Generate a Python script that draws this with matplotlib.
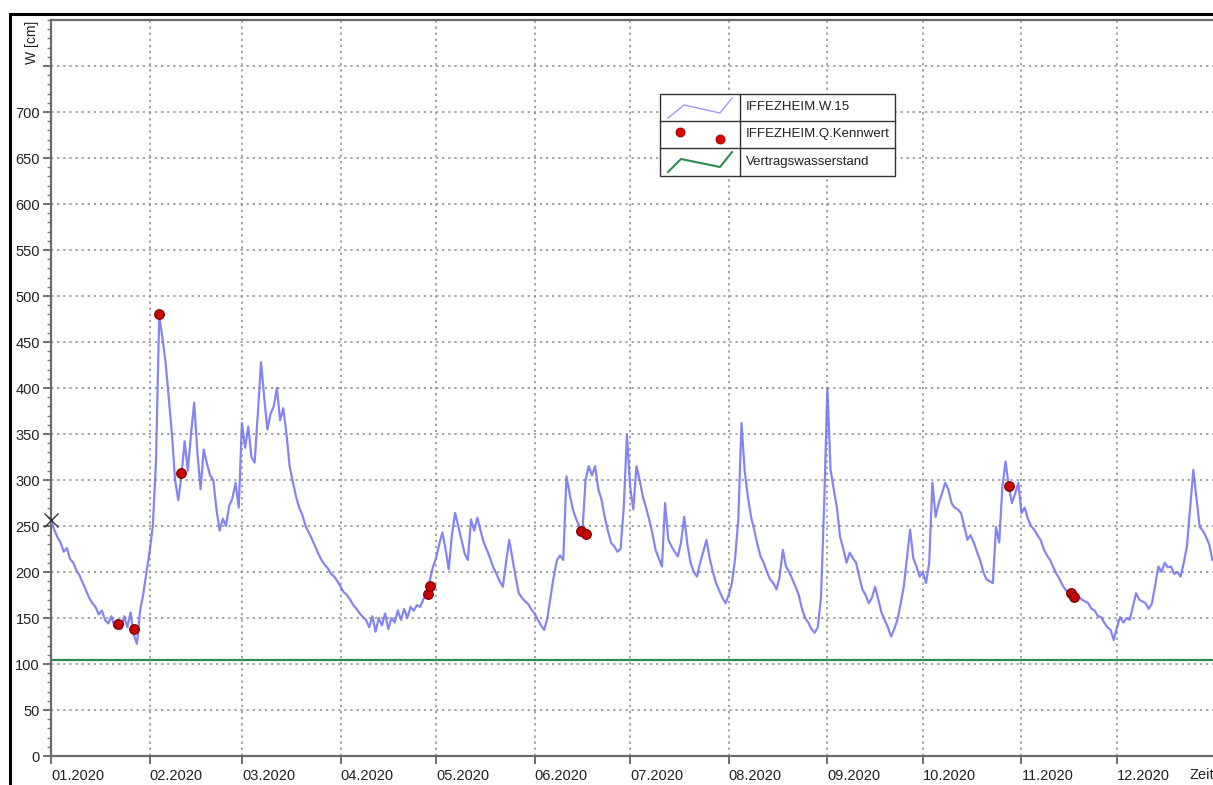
import matplotlib
matplotlib.use("Agg")
import matplotlib.pyplot as plt
from matplotlib.lines import Line2D
from matplotlib.patches import Rectangle
import pandas as pd
import numpy as np

plt.rcParams['font.family'] = ['Liberation Sans', 'DejaVu Sans']

# ---- data: daily water level IFFEZHEIM.W.15 [cm], 2020 ----
w_jan = [257, 246, 238, 232, 222, 226, 214, 210, 202, 196, 188, 180, 172, 166, 162, 154,
         158, 148, 144, 152, 140, 148, 138, 152, 140, 156, 132, 122, 158, 176, 200]
w_feb = [222, 250, 320, 478, 455, 428, 390, 350, 300, 278, 305, 342, 310, 350, 384, 330,
         290, 333, 318, 305, 300, 268, 245, 258, 250, 272, 280, 297, 270]
w_mar = [362, 335, 358, 325, 319, 372, 428, 390, 355, 372, 380, 400, 365, 378, 350, 315,
         298, 282, 270, 262, 250, 243, 236, 228, 220, 213, 208, 204, 198, 195, 190]
w_apr = [184, 178, 175, 170, 164, 160, 155, 151, 148, 140, 152, 135, 150, 142, 155, 138,
         150, 145, 158, 148, 160, 150, 162, 158, 164, 162, 170, 176, 190, 205]
w_may = [215, 230, 243, 225, 203, 240, 264, 250, 235, 220, 213, 257, 245, 259, 245, 232,
         224, 215, 205, 198, 190, 184, 210, 235, 215, 195, 177, 172, 168, 165, 159]
w_jun = [155, 148, 142, 137, 150, 173, 195, 213, 218, 213, 304, 285, 268, 258, 250, 244,
         300, 315, 305, 315, 290, 279, 260, 245, 232, 228, 222, 225, 270, 349]
w_jul = [293, 268, 315, 300, 282, 270, 257, 242, 224, 215, 206, 275, 235, 228, 222, 217,
         232, 260, 230, 210, 200, 195, 210, 222, 235, 215, 200, 188, 180, 172, 166]
w_aug = [175, 188, 215, 257, 362, 310, 282, 260, 246, 230, 217, 210, 200, 192, 188, 181,
         195, 224, 206, 200, 192, 184, 175, 160, 150, 145, 138, 134, 140, 173, 275]
w_sep = [400, 311, 290, 270, 238, 225, 210, 221, 215, 210, 195, 181, 175, 166, 172, 184,
         170, 156, 148, 140, 130, 138, 148, 165, 184, 215, 246, 215, 206, 195]
w_oct = [200, 188, 210, 297, 260, 275, 285, 297, 290, 275, 270, 268, 264, 250, 235, 240,
         232, 222, 213, 200, 192, 190, 188, 249, 232, 293, 320, 293, 275, 285, 297]
w_nov = [264, 270, 258, 250, 246, 240, 235, 225, 218, 213, 205, 198, 192, 185, 180, 176,
         174, 178, 173, 170, 168, 166, 160, 158, 152, 151, 145, 140, 137, 126]
w_dec = [140, 151, 145, 150, 148, 162, 177, 170, 168, 166, 160, 166, 185, 206, 200, 210,
         205, 206, 198, 200, 195, 210, 228, 270, 311, 280, 249, 245, 238, 230, 213]

# characteristic discharge values (IFFEZHEIM.Q.Kennwert)
q_dates = ["2020-01-22 00:00", "2020-01-27 00:00", "2020-02-04 00:00", "2020-02-11 00:00",
           "2020-04-28 12:00", "2020-04-29 00:00", "2020-06-15 16:00", "2020-06-17 00:00",
           "2020-10-28 00:00", "2020-11-16 10:00", "2020-11-17 10:00"]
q_vals = [143, 138, 480, 308, 176, 185, 245, 241, 293, 177, 173]

vertrag = 104  # Vertragswasserstand [cm]

y_ticks = [0, 50, 100, 150, 200, 250, 300, 350, 400, 450, 500, 550, 600, 650, 700]
month_labels = ["01.2020", "02.2020", "03.2020", "04.2020", "05.2020", "06.2020",
                "07.2020", "08.2020", "09.2020", "10.2020", "11.2020", "12.2020"]

series_names = ["IFFEZHEIM.W.15", "IFFEZHEIM.Q.Kennwert", "Vertragswasserstand"]

# ---- figure ----
W, H = 1213, 785
fig = plt.figure(figsize=(W / 100, H / 100), dpi=100)

def fx(px):
    return px / W

def fy(py):
    return 1 - py / H

ax = fig.add_axes([fx(51), fy(756), fx(1213) - fx(51) + 0.01, fy(20) - fy(756)])

w_all = w_jan + w_feb + w_mar + w_apr + w_may + w_jun + w_jul + w_aug + w_sep + w_oct + w_nov + w_dec
dates = pd.date_range("2020-01-01", periods=len(w_all), freq="D")

blue = "#7070F0"
red = "#C80000"
green = "#2E8B50"

ax.plot(dates, w_all, color=blue, lw=1.6, alpha=0.85, zorder=3)
ax.plot(dates[0], w_all[0], marker="x", color="#333333", ms=10, mew=1.0, zorder=4, clip_on=False)
ax.axhline(vertrag, color=green, lw=1.6, zorder=3)
ax.plot(pd.to_datetime(q_dates, format="%Y-%m-%d %H:%M"), q_vals, ls="none", marker="o", ms=7,
        mfc=red, mec="#7a0000", mew=0.8, zorder=5)

ax.set_xlim(pd.Timestamp("2020-01-01"), pd.Timestamp("2021-01-01") + pd.Timedelta(days=3))
ax.set_ylim(0, 800)

month_pos = pd.date_range("2020-01-01", periods=12, freq="MS")
ax.set_xticks(month_pos)
ax.set_xticklabels(month_labels, ha="left", fontsize=10.5, color="#222222")
ax.set_yticks(y_ticks + [750])
ax.set_yticklabels([str(v) for v in y_ticks] + [""], fontsize=10.5, color="#222222")
ax.set_yticks(np.arange(0, 801, 10), minor=True)

ax.tick_params(axis="x", which="major", length=6, width=1.2, color="#555555", pad=3)
ax.tick_params(axis="y", which="major", length=6, width=1.2, color="#555555", pad=2)
ax.tick_params(axis="y", which="minor", length=3, width=1.0, color="#777777")

ax.grid(True, which="major", color="#8a8a8a", ls=(0, (1.5, 2.5)), lw=1.1)

for s in ["left", "bottom", "top"]:
    ax.spines[s].set_color("#6a6a6a")
    ax.spines[s].set_linewidth(1.6)
ax.spines["right"].set_visible(False)

# y-axis label
fig.text(fx(32), fy(42), "W [cm]", rotation=90, ha="center", va="center", fontsize=10, color="#222222")
# x-axis label at the right edge
fig.text(fx(1189), fy(775), "Zeit", ha="left", va="center", fontsize=10.5, color="#222222")

# outer black frame
fig.add_artist(Line2D([fx(10), fx(10)], [fy(14), 0], color="black", lw=2.2))
fig.add_artist(Line2D([fx(10), 1], [fy(14), fy(14)], color="black", lw=2.2))

# legend (table style)
lx0, lx1, lxm = 660, 895, 740
ly = [94, 121, 148, 176]
fig.add_artist(Rectangle((fx(lx0), fy(ly[3])), fx(lx1) - fx(lx0), fy(ly[0]) - fy(ly[3]),
                         facecolor="white", edgecolor="#333333", lw=1.0, zorder=10))
fig.add_artist(Line2D([fx(lxm), fx(lxm)], [fy(ly[0]), fy(ly[3])], color="#333333", lw=1.0, zorder=11))
for yy in ly[1:3]:
    fig.add_artist(Line2D([fx(lx0), fx(lx1)], [fy(yy), fy(yy)], color="#333333", lw=1.0, zorder=11))

fig.add_artist(Line2D([fx(v) for v in (668, 684, 720, 732)], [fy(v) for v in (118, 105, 113, 98)],
                      color=blue, lw=1.0, alpha=0.7, zorder=12))
fig.add_artist(Line2D([fx(680), fx(720)], [fy(132), fy(139)], ls="none", marker="o", ms=6.5,
                      mfc="#E00000", mec="#900000", mew=0.6, zorder=12))
fig.add_artist(Line2D([fx(v) for v in (668, 681, 720, 732)], [fy(v) for v in (172, 159, 167, 152)],
                      color=green, lw=1.5, zorder=12))
for i, name in enumerate(series_names):
    fig.text(fx(746), fy((ly[i] + ly[i + 1]) / 2), name, ha="left", va="center",
             fontsize=9.5, color="#222222", zorder=13)

fig.savefig("out.png", dpi=100)
